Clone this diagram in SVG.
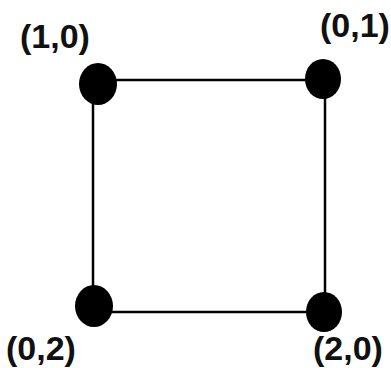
<svg xmlns="http://www.w3.org/2000/svg" width="391" height="368" viewBox="0 0 391 368">
<style>
.edge{stroke:#000;stroke-width:2.5;fill:none}
.dot{fill:#000}
.lbl{font-family:"Liberation Sans",Arial,sans-serif;font-weight:bold;font-size:34px;fill:#111}
</style>
<rect width="391" height="368" fill="#fff"/>
<g id="connectors">
<line class="edge" x1="98" y1="80" x2="323" y2="80"/>
<line class="edge" x1="93" y1="84" x2="93" y2="306"/>
<line class="edge" x1="325" y1="79" x2="325" y2="312"/>
<line class="edge" x1="94" y1="312" x2="324" y2="312"/>
</g>
<g id="n10"><ellipse class="dot" cx="98" cy="84" rx="19" ry="21"/><text class="lbl" x="20" y="48">(1,0)</text></g>
<g id="n01"><ellipse class="dot" cx="323" cy="79" rx="18" ry="20"/><text class="lbl" x="320" y="37">(0,1)</text></g>
<g id="n02"><ellipse class="dot" cx="94" cy="306" rx="19" ry="21"/><text class="lbl" x="6" y="360">(0,2)</text></g>
<g id="n20"><ellipse class="dot" cx="324" cy="312" rx="18" ry="20"/><text class="lbl" x="313" y="360">(2,0)</text></g>
</svg>
